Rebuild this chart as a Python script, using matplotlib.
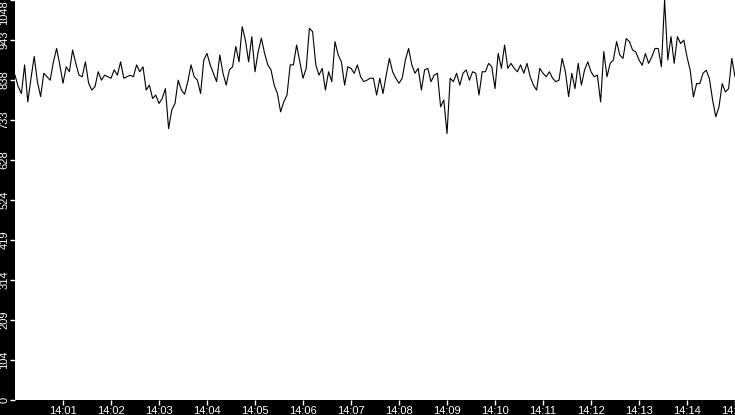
import numpy as np
import matplotlib
matplotlib.use('Agg')
import matplotlib.pyplot as plt

# one reading every 4 seconds, starting 14:00:00
sample_step = 4
start_hour = 14

readings = [
    851, 821, 803, 878, 781, 843, 900, 834, 795, 856, 847, 838, 886, 921, 878,
    830, 873, 860, 917, 882, 851, 847, 886, 830, 812, 821, 860, 838, 851, 847,
    843, 865, 851, 886, 843, 847, 851, 847, 878,
    860, 873, 812, 825, 790, 799, 777, 790, 816, 711, 760, 777, 838, 812, 801,
    834, 878, 847, 838, 803, 891, 908, 878, 856, 834, 904, 856, 825, 865, 873,
    926, 886, 978, 943, 886, 952, 860, 913,
    948, 908, 878, 865, 825, 803, 755, 781, 799, 878, 878, 930, 886, 843, 869,
    974, 965, 878, 851, 869, 812, 860, 834, 939, 904, 886, 825, 873, 869, 856,
    878, 847, 834, 838, 843, 843, 799, 843,
    803, 851, 895, 860, 843, 830, 843, 891, 921, 878, 856, 869, 812, 865, 869,
    834, 851, 856, 768, 786, 698, 843, 834, 856, 825, 856, 865, 838, 860, 856,
    799, 860, 860, 882, 873, 816, 908,
    869, 930, 869, 882, 869, 860, 878, 856, 882, 847, 825, 812, 869, 856, 847,
    860, 843, 834, 838, 895, 860, 795, 856, 816, 882, 825, 865, 886, 860, 847,
    851, 781, 913, 847, 882, 891, 939, 904,
    895, 947, 939, 917, 912, 891, 877, 908, 882, 899, 921, 921, 873, 1048, 891,
    952, 882, 952, 934, 943, 899, 864, 794, 829, 829, 856, 864, 842, 786, 742,
    768, 829, 807, 816, 895, 847,
]

seconds = np.arange(len(readings)) * sample_step
tick_minutes = list(range(1, 16))
tick_labels = ['%d:%02d' % (start_hour, m) for m in tick_minutes]

plt.rcParams['font.family'] = ['Liberation Sans', 'DejaVu Sans']

fig = plt.figure(figsize=(7.35, 4.15), dpi=100, facecolor='black')
ax = fig.add_axes([15 / 735, 15 / 415, 720 / 735, 400 / 415])
ax.set_facecolor('white')
ax.plot(seconds, readings, color='black', linewidth=0.8)

ymax = max(readings)
ax.set_xlim(0, seconds[-1])
ax.set_ylim(0, ymax)

yticks = np.linspace(0, ymax, 11)
ax.set_yticks(yticks)
ax.set_yticklabels([str(int(v)) for v in yticks], rotation=90, va='center')
ax.set_xticks([m * 60 for m in tick_minutes])
ax.set_xticklabels(tick_labels)

ax.tick_params(colors='white', labelsize=8, length=3.6, width=1, pad=0.5)
ax.get_yticklabels()[-1].set_va('top')
for side in ax.spines.values():
    side.set_visible(False)

plt.savefig('out.png', dpi=100, facecolor='black')
